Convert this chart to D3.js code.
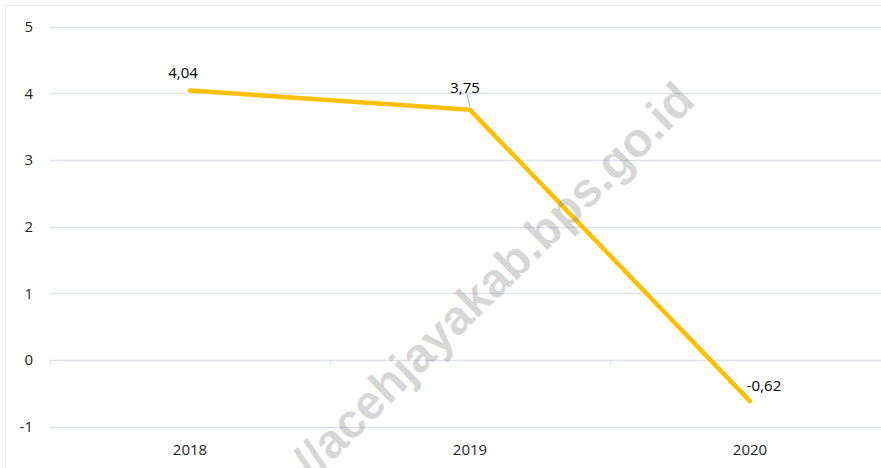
<!DOCTYPE html>
<html>
<head>
<meta charset="utf-8">
<script src="https://cdn.jsdelivr.net/npm/d3@7"></script>
<style>
  body { margin: 0; background: #fff; }
  text { font-family: "Open Sans", "Noto Sans", sans-serif; }
</style>
</head>
<body>
<svg id="chart" width="881" height="468"></svg>
<script>
var years = ["2018", "2019", "2020"];
var values = [4.04, 3.75, -0.62];
var labels = ["4,04", "3,75", "-0,62"];
var yTicks = [-1, 0, 1, 2, 3, 4, 5];

var svg = d3.select("#chart");

/* outer frame of the chart area (runs off the right edge) */
svg.append("rect")
	.attr("x", 5.5).attr("y", 5.5)
	.attr("width", 900).attr("height", 500)
	.attr("fill", "#fff")
	.attr("stroke", "#e4e7ec");

var x = d3.scaleBand()
	.domain(years)
	.range([50, 890]);

var y = d3.scaleLinear()
	.domain([-1, 5])
	.range([426.5, 26.5]);

/* gridlines */
svg.append("g")
	.selectAll("line")
	.data(yTicks)
	.enter().append("line")
	.attr("x1", 50).attr("x2", 900)
	.attr("y1", function(d){ return Math.round(y(d)) + 0.5; })
	.attr("y2", function(d){ return Math.round(y(d)) + 0.5; })
	.attr("stroke", "#dfe3e9")
	.attr("stroke-width", 1.3);

/* y labels */
svg.append("g")
	.selectAll("text")
	.data(yTicks)
	.enter().append("text")
	.attr("x", 33)
	.attr("y", function(d){ return y(d); })
	.attr("dy", "0.36em")
	.attr("text-anchor", "end")
	.attr("font-size", "15px")
	.attr("fill", "#262626")
	.text(function(d){ return d; });

/* category ticks on the zero line */
var tickX = [50].concat(years.slice(1).map(function(d){ return x(d); }));
svg.append("g")
	.selectAll("line")
	.data(tickX)
	.enter().append("line")
	.attr("x1", function(d){ return d + 0.5; })
	.attr("x2", function(d){ return d + 0.5; })
	.attr("y1", Math.round(y(0)))
	.attr("y2", Math.round(y(0)) + 4)
	.attr("stroke", "#dfe3e9")
	.attr("stroke-width", 1.3);

/* x labels */
svg.append("g")
	.selectAll("text")
	.data(years)
	.enter().append("text")
	.attr("x", function(d){ return x(d) + x.bandwidth() / 2; })
	.attr("y", 455)
	.attr("text-anchor", "middle")
	.attr("font-size", "15px")
	.attr("fill", "#262626")
	.text(function(d){ return d; });

/* line */
var line = d3.line()
	.x(function(d, i){ return x(years[i]) + x.bandwidth() / 2; })
	.y(function(d){ return y(d); });

svg.append("path")
	.datum(values)
	.attr("fill", "none")
	.attr("stroke", "#ffc000")
	.attr("stroke-width", 4.5)
	.attr("stroke-linejoin", "round")
	.attr("stroke-linecap", "round")
	.attr("d", line);

/* leader line for 2019 label */
var cx19 = x("2019") + x.bandwidth() / 2;
svg.append("line")
	.attr("x1", cx19 - 3).attr("y1", y(values[1]) - 16)
	.attr("x2", cx19).attr("y2", y(values[1]) - 3)
	.attr("stroke", "#a6b3c3")
	.attr("stroke-width", 1);

/* data labels */
var labelOffset = [[-7, -13], [-5, -17], [14, -10]];
svg.append("g")
	.selectAll("text")
	.data(values)
	.enter().append("text")
	.attr("x", function(d, i){ return x(years[i]) + x.bandwidth() / 2 + labelOffset[i][0]; })
	.attr("y", function(d, i){ return y(d) + labelOffset[i][1]; })
	.attr("text-anchor", "middle")
	.attr("font-size", "15px")
	.attr("fill", "#000")
	.text(function(d, i){ return labels[i]; });

/* watermark, drawn over the chart */
svg.append("text")
	.attr("transform", "translate(697,103) rotate(-44.5)")
	.attr("text-anchor", "end")
	.attr("font-weight", "bold")
	.attr("font-size", "48px")
	.attr("fill", "#8c8c8c")
	.attr("fill-opacity", 0.35)
	.style("font-family", "'Liberation Sans', Arial, sans-serif")
	.text("//acehjayakab.bps.go.id");
</script>
</body>
</html>
